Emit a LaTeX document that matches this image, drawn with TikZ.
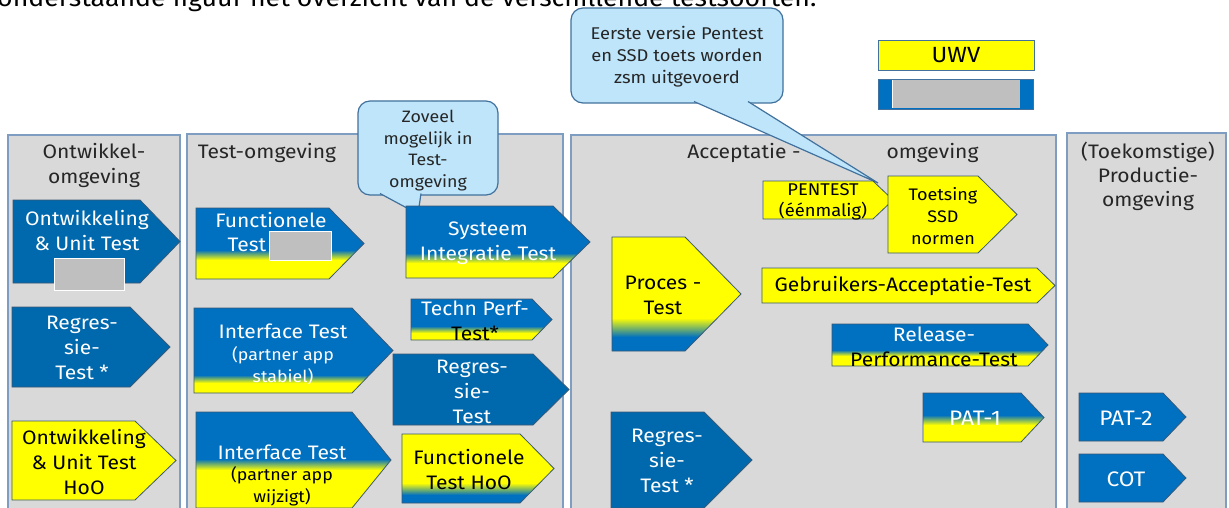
\documentclass[tikz,border=0pt]{standalone}
\usepackage{fontspec}
\setmainfont{Fira Sans}[FakeStretch=1.08]
\definecolor{panelgrey}{HTML}{D9D9D9}
\definecolor{panelline}{HTML}{7F9DC0}
\definecolor{uwvblue}{HTML}{0070C0}
\definecolor{darkblue}{HTML}{0068AC}
\definecolor{uwvyellow}{HTML}{FFFF00}
\definecolor{shapeline}{HTML}{3B5874}
\definecolor{bubblefill}{HTML}{BEE5FA}
\definecolor{bubbleline}{HTML}{41719C}
\definecolor{txtdark}{HTML}{262626}
\definecolor{redact}{HTML}{BFBFBF}
\newcommand\fbig{\fontsize{19.5}{25}\selectfont}
\newcommand\fsmall{\fontsize{16.5}{22}\selectfont}
\newcommand\fpat{\fontsize{21}{25}\selectfont}
% L T B bodyend tip fill
\newcommand\solidpent[6]{\draw[shapeborder,fill=#6] (#1,#2) -- (#4,#2) -- (#5,{(#2+#3)/2}) -- (#4,#3) -- (#1,#3) -- cycle;}
% L T B bodyend tip t1 t2 topcolor bottomcolor
\newcommand\gradpent[9]{%
  \begin{scope}
    \clip (#1,#2) -- (#4,#2) -- (#5,{(#2+#3)/2}) -- (#4,#3) -- (#1,#3) -- cycle;
    \fill[#8] (#1,{#2-1}) rectangle (#5,#6);
    \shade[top color=#8,bottom color=#9] (#1,#6) rectangle (#5,#7);
    \fill[#9] (#1,#7) rectangle (#5,{#3+1});
  \end{scope}
  \draw[shapeborder] (#1,#2) -- (#4,#2) -- (#5,{(#2+#3)/2}) -- (#4,#3) -- (#1,#3) -- cycle;}
\tikzset{
  panel/.style={fill=panelgrey, draw=panelline, line width=1.2pt},
  shapeborder/.style={draw=shapeline, line width=0.8pt},
  bubble/.style={fill=bubblefill, draw=bubbleline, line width=1.2pt},
  legendbox/.style={draw=bubbleline, line width=0.8pt},
  redactbox/.style={fill=redact, draw=white, line width=1pt},
  wtxt/.style={text=white, align=center, inner sep=0pt, font=\fbig},
  ktxt/.style={text=black, align=center, inner sep=0pt, font=\fbig},
  htxt/.style={text=txtdark, align=center, inner sep=0pt, font=\fbig},
  btxt/.style={text=txtdark, align=center, inner sep=0pt, font=\fsmall},
}
\begin{document}
\begin{tikzpicture}[x=1pt,y=-1pt]
\useasboundingbox (0,0) rectangle (1229,508);
\clip (0,0) rectangle (1229,508);
\fill[white] (0,0) rectangle (1229,508);
% cut-off caption line
\node[anchor=base west, inner sep=0pt, text=black, font=\fontsize{24.7}{28}\selectfont] (caption) at (-3,6.5) {onderstaande figuur het overzicht van de verschillende testsoorten.};
% panels
\draw[panel] (8,135) rectangle (180,520);
\draw[panel] (187,134) rectangle (563,520);
\draw[panel] (571,135) rectangle (1056,520);
\draw[panel] (1067,133) rectangle (1226,520);
% headings
\node[htxt] (h1) at (94,165.5) {Ontwikkel-\\omgeving};
\node[htxt] (h2) at (267,153) {Test-omgeving};
\node[htxt] (h3a) at (744,153) {Acceptatie -};
\node[htxt] (h3b) at (932.5,153) {omgeving};
\node[htxt, font=\fontsize{19.5}{24}\selectfont] (h4) at (1148,176) {(Toekomstige)\\Productie-\\omgeving};
% legend
\draw[legendbox, fill=uwvyellow] (878,40) rectangle (1034,70);
\node[ktxt, font=\fontsize{22}{24}\selectfont] (uwv) at (956,55) {UWV};
\draw[legendbox, fill=uwvblue] (878,79) rectangle (1033,109);
\fill[redact] (892,80) rectangle (1020,108);
\draw[white, line width=1pt] (892,80) -- (892,108);
% bubbles
\draw[bubble, rounded corners=12] (571,8) rectangle (783,103);
\filldraw[bubble] (694,101.5) -- (878,183) -- (748,101.5);
\node[btxt, font=\fontsize{17}{22}\selectfont] (eerste) at (677,57) {Eerste versie Pentest\\en SSD toets worden\\zsm uitgevoerd};
\draw[bubble, rounded corners=12] (358,101) rectangle (498,195);
\filldraw[bubble] (380,193.5) -- (418,214) -- (421,193.5);
\node[btxt, font=\fontsize{16.5}{21.7}\selectfont] (zoveel) at (428,150.5) {Zoveel\\mogelijk in\\Test-\\omgeving};
% column 1
\solidpent{13}{200}{283}{140}{180}{darkblue}
\node[wtxt] (a1) at (87,230.5) {Ontwikkeling\\\& Unit Test};
\draw[redactbox] (54,258) rectangle (124,290);
\solidpent{12}{307}{387}{130}{170}{darkblue}
\node[wtxt] (a2) at (82,348) {Regres-\\sie-\\Test *};
\solidpent{12}{421}{500}{135}{176}{uwvyellow}
\node[ktxt] (a3) at (84,462) {Ontwikkeling\\\& Unit Test\\HoO};
% column 2
\gradpent{196}{208}{279}{329}{364}{250}{260}{uwvblue}{uwvyellow}
\node[wtxt] (b1a) at (271,220) {Functionele};
\node[wtxt] (b1b) at (247,245) {Test};
\draw[redactbox] (269,231) rectangle (331,260);
\gradpent{194}{308}{393}{352}{393}{375}{383}{uwvblue}{uwvyellow}
\node[wtxt] (b2a) at (283,331) {Interface Test};
\node[wtxt, font=\fsmall] (b2b) at (283,366) {(partner app\\stabiel)};
\gradpent{196}{412}{508}{352}{391}{459}{470}{uwvblue}{uwvyellow}
\node[wtxt] (b3a) at (282,452) {Interface Test};
\node[ktxt, font=\fsmall] (b3b) at (282,486) {(partner app\\wijzigt)};
\gradpent{406}{206}{278}{553}{590}{253}{263}{uwvblue}{uwvyellow}
\node[wtxt] (b4) at (488,243.5) {Systeem\\Integratie Test};
\gradpent{411}{299}{340}{532}{552}{326}{333}{uwvblue}{uwvyellow}
\node[wtxt] (b5a) at (475,308) {Techn Perf-};
\node[ktxt] (b5b) at (475,333) {Test*};
\solidpent{393}{354}{425}{533}{569}{darkblue}
\node[wtxt] (b6) at (472,391.5) {Regres-\\sie-\\Test};
\gradpent{402}{434}{503}{520}{554}{483}{495}{uwvyellow}{uwvblue}
\node[ktxt] (b7) at (469,469.5) {Functionele\\Test HoO};
% column 3
\solidpent{763}{181}{219}{873}{893}{uwvyellow}
\node[ktxt, font=\fontsize{17}{21}\selectfont] (c1) at (823,201.5) {PENTEST\\(éénmalig)};
\solidpent{888}{176}{253}{978}{1017}{uwvyellow}
\node[ktxt, font=\fontsize{16.7}{22}\selectfont] (c2) at (943,216) {Toetsing\\SSD\\normen};
\gradpent{612}{237}{351}{685}{741}{318}{337}{uwvyellow}{uwvblue}
\node[ktxt] (c3) at (663,295) {Proces -\\Test};
\solidpent{762}{268}{303}{1037}{1055}{uwvyellow}
\node[ktxt] (c4) at (903,286) {Gebruikers-Acceptatie-Test};
\gradpent{832}{324}{366}{1028}{1048}{350}{356}{uwvblue}{uwvyellow}
\node[wtxt] (c5a) at (934,334) {Release-};
\node[ktxt] (c5b) at (934,359) {Performance-Test};
\gradpent{923}{393}{442}{1021}{1044}{415}{425}{uwvblue}{uwvyellow}
\node[wtxt, font=\fpat] (c6) at (975,418) {PAT-1};
\solidpent{611}{412}{508}{704}{752}{darkblue}
\node[wtxt] (c7) at (667,461) {Regres-\\sie-\\Test *};
% column 4
\solidpent{1079}{393}{441}{1163}{1186}{uwvblue}
\node[wtxt, font=\fpat] (d1) at (1126,418) {PAT-2};
\solidpent{1079}{454}{502}{1163}{1186}{uwvblue}
\node[wtxt, font=\fpat] (d2) at (1126,479) {COT};
\end{tikzpicture}
\end{document}
